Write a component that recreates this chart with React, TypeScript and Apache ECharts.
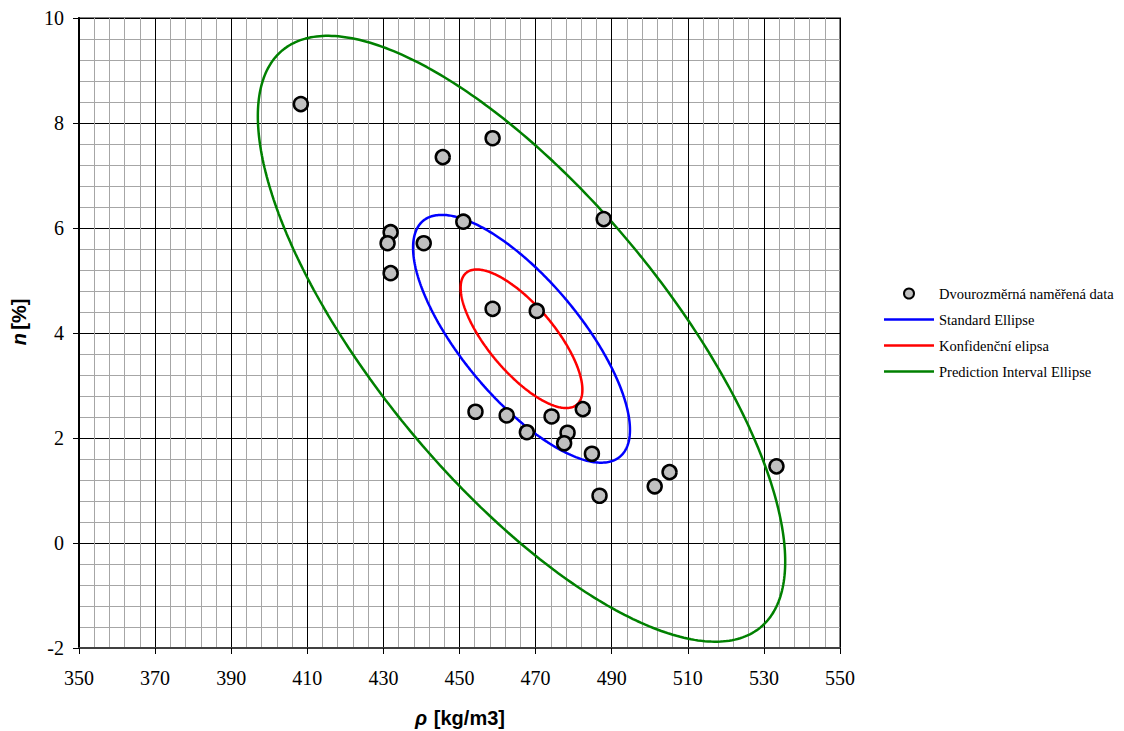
import React, { useEffect, useRef } from "react";
import * as echarts from "echarts";

// Measured pairs: density rho [kg/m3] and porosity n [%]
const rho = [
  408.3, 445.6, 458.7, 487.9, 451.0, 431.9, 431.1, 440.6, 431.9, 458.7, 470.3,
  454.2, 462.4, 474.2, 482.4, 467.7, 478.4, 477.5, 484.8, 486.8, 501.3, 505.2, 533.3,
];
const porosity = [
  8.36, 7.35, 7.71, 6.17, 6.12, 5.92, 5.71, 5.71, 5.14, 4.46, 4.42,
  2.5, 2.43, 2.41, 2.55, 2.11, 2.1, 1.9, 1.7, 0.9, 1.08, 1.35, 1.46,
];

// Ellipse geometry (data units): common centre, correlation, half extents along x and y
const ellipseCenter = [466.3, 3.89];
const ellipseCorrelation = -0.735;
const standardHalf = [28.5, 2.36];
const confidenceHalf = [16.0, 1.32];
const predictionHalf = [69.3, 5.77];

const seriesNames = [
  "Dvourozměrná naměřená data",
  "Standard Ellipse",
  "Konfidenční elipsa",
  "Prediction Interval Ellipse",
];

// x = cx + a cos t, y = cy + b cos(t + phi), with cos(phi) = correlation
function ellipsePoints(half: number[]): number[][] {
  const phi = Math.acos(ellipseCorrelation);
  const pts: number[][] = [];
  const steps = 360;
  for (let i = 0; i <= steps; i++) {
    const t = (i / steps) * Math.PI * 2;
    pts.push([
      ellipseCenter[0] + half[0] * Math.cos(t),
      ellipseCenter[1] + half[1] * Math.cos(t + phi),
    ]);
  }
  return pts;
}

const serif = "Liberation Serif";
const sans = "Liberation Sans";
const lineIcon = "path://M0,0 L50,0 L50,2.5 L0,2.5 Z";

export default function App() {
  const ref = useRef<HTMLDivElement>(null);

  useEffect(() => {
    if (!ref.current) return;
    const chart = echarts.init(ref.current, undefined, { renderer: "svg" });

    const lineSeries = (name: string, half: number[], color: string) => ({
      name,
      type: "line",
      data: ellipsePoints(half),
      symbol: "none",
      showSymbol: false,
      smooth: false,
      z: 2,
      lineStyle: { color, width: 2.5 },
      itemStyle: { color },
    });

    const titleRich = {
      i: { fontFamily: sans, fontSize: 20, fontWeight: "bold", fontStyle: "italic", fill: "#000" },
      b: { fontFamily: sans, fontSize: 20, fontWeight: "bold", fill: "#000" },
    };

    chart.setOption({
      animation: false,
      backgroundColor: "#ffffff",
      grid: {
        left: 79,
        top: 18,
        width: 761,
        height: 630,
        show: true,
        borderColor: "#808080",
        borderWidth: 2,
        backgroundColor: "#ffffff",
      },
      xAxis: {
        type: "value",
        min: 350,
        max: 550,
        interval: 20,
        axisLine: { show: true, onZero: false, lineStyle: { color: "#404040", width: 2 } },
        axisTick: { show: true, length: 6, lineStyle: { color: "#000", width: 1 } },
        axisLabel: { color: "#000", fontFamily: serif, fontSize: 20, margin: 20 },
        splitLine: { show: true, lineStyle: { color: "#000", width: 1 } },
        minorTick: { show: false, splitNumber: 5 },
        minorSplitLine: { show: true, lineStyle: { color: "#a6a6a6", width: 1 } },
      },
      yAxis: {
        type: "value",
        min: -2,
        max: 10,
        interval: 2,
        axisLine: { show: true, onZero: false, lineStyle: { color: "#000", width: 2 } },
        axisTick: { show: true, length: 6, lineStyle: { color: "#000", width: 1 } },
        axisLabel: { color: "#000", fontFamily: serif, fontSize: 20, margin: 15 },
        splitLine: { show: true, lineStyle: { color: "#000", width: 1 } },
        minorTick: { show: false, splitNumber: 5 },
        minorSplitLine: { show: true, lineStyle: { color: "#a6a6a6", width: 1 } },
      },
      legend: {
        orient: "vertical",
        left: 884,
        top: 285,
        padding: 0,
        itemWidth: 50,
        itemHeight: 10,
        itemGap: 9,
        textStyle: { color: "#000", fontFamily: serif, fontSize: 14.5, lineHeight: 17 },
        data: [
          { name: seriesNames[0], icon: "circle", itemStyle: { color: "#c0c0c0", borderColor: "#000", borderWidth: 2 } },
          { name: seriesNames[1], icon: lineIcon },
          { name: seriesNames[2], icon: lineIcon },
          { name: seriesNames[3], icon: lineIcon },
        ],
      },
      graphic: [
        {
          type: "text",
          x: 460,
          y: 718,
          style: {
            text: "{i|ρ}  {b|[kg/m3]}",
            align: "center",
            verticalAlign: "middle",
            rich: titleRich,
          },
        },
        {
          type: "text",
          x: 19,
          y: 322,
          rotation: Math.PI / 2,
          style: {
            text: "{i|n} {b|[%]}",
            align: "center",
            verticalAlign: "middle",
            rich: titleRich,
          },
        },
      ],
      series: [
        {
          name: seriesNames[0],
          type: "scatter",
          data: rho.map((x, i) => [x, porosity[i]]),
          symbol: "circle",
          symbolSize: 14,
          z: 3,
          itemStyle: { color: "#c0c0c0", borderColor: "#000", borderWidth: 2.5, opacity: 1 },
        },
        lineSeries(seriesNames[1], standardHalf, "#0000ff"),
        lineSeries(seriesNames[2], confidenceHalf, "#ff0000"),
        lineSeries(seriesNames[3], predictionHalf, "#008000"),
      ],
    });

    return () => chart.dispose();
  }, []);

  return (
    <div
      ref={ref}
      style={{ position: "absolute", left: 0, top: 0, width: 1124, height: 731 }}
    />
  );
}
